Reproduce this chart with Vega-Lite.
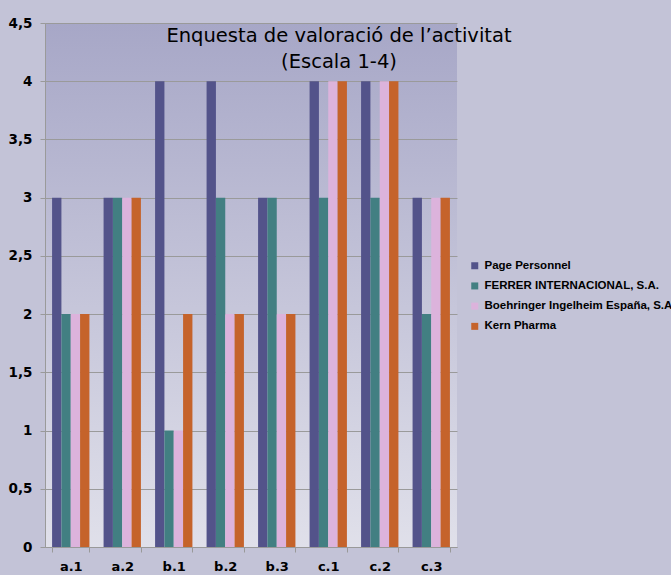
{
  "$schema": "https://vega.github.io/schema/vega-lite/v6.json",
  "autosize": "none",
  "width": 412,
  "height": 524,
  "padding": {"left": 45, "top": 23, "right": 214, "bottom": 28},
  "background": "#c3c3d7",
  "title": {
    "text": ["Enquesta de valoració de l’activitat", "(Escala 1-4)"],
    "orient": "top",
    "frame": "group",
    "anchor": "middle",
    "dx": 88,
    "offset": -71,
    "baseline": "alphabetic",
    "font": "DejaVu Sans",
    "fontSize": 19.5,
    "fontWeight": "normal",
    "lineHeight": 26,
    "color": "#000000"
  },
  "data": {
    "values": [
      {"item": "a.1", "company": "Page Personnel", "value": 3},
      {"item": "a.1", "company": "FERRER INTERNACIONAL, S.A.", "value": 2},
      {"item": "a.1", "company": "Boehringer Ingelheim España, S.A", "value": 2},
      {"item": "a.1", "company": "Kern Pharma", "value": 2},
      {"item": "a.2", "company": "Page Personnel", "value": 3},
      {"item": "a.2", "company": "FERRER INTERNACIONAL, S.A.", "value": 3},
      {"item": "a.2", "company": "Boehringer Ingelheim España, S.A", "value": 3},
      {"item": "a.2", "company": "Kern Pharma", "value": 3},
      {"item": "b.1", "company": "Page Personnel", "value": 4},
      {"item": "b.1", "company": "FERRER INTERNACIONAL, S.A.", "value": 1},
      {"item": "b.1", "company": "Boehringer Ingelheim España, S.A", "value": 1},
      {"item": "b.1", "company": "Kern Pharma", "value": 2},
      {"item": "b.2", "company": "Page Personnel", "value": 4},
      {"item": "b.2", "company": "FERRER INTERNACIONAL, S.A.", "value": 3},
      {"item": "b.2", "company": "Boehringer Ingelheim España, S.A", "value": 2},
      {"item": "b.2", "company": "Kern Pharma", "value": 2},
      {"item": "b.3", "company": "Page Personnel", "value": 3},
      {"item": "b.3", "company": "FERRER INTERNACIONAL, S.A.", "value": 3},
      {"item": "b.3", "company": "Boehringer Ingelheim España, S.A", "value": 2},
      {"item": "b.3", "company": "Kern Pharma", "value": 2},
      {"item": "c.1", "company": "Page Personnel", "value": 4},
      {"item": "c.1", "company": "FERRER INTERNACIONAL, S.A.", "value": 3},
      {"item": "c.1", "company": "Boehringer Ingelheim España, S.A", "value": 4},
      {"item": "c.1", "company": "Kern Pharma", "value": 4},
      {"item": "c.2", "company": "Page Personnel", "value": 4},
      {"item": "c.2", "company": "FERRER INTERNACIONAL, S.A.", "value": 3},
      {"item": "c.2", "company": "Boehringer Ingelheim España, S.A", "value": 4},
      {"item": "c.2", "company": "Kern Pharma", "value": 4},
      {"item": "c.3", "company": "Page Personnel", "value": 3},
      {"item": "c.3", "company": "FERRER INTERNACIONAL, S.A.", "value": 2},
      {"item": "c.3", "company": "Boehringer Ingelheim España, S.A", "value": 3},
      {"item": "c.3", "company": "Kern Pharma", "value": 3}
    ]
  },
  "mark": {"type": "bar", "strokeWidth": 0},
  "encoding": {
    "x": {
      "field": "item",
      "type": "nominal",
      "sort": ["a.1", "a.2", "b.1", "b.2", "b.3", "c.1", "c.2", "c.3"],
      "scale": {"paddingInner": 0.275, "paddingOuter": 0.1375},
      "axis": {
        "title": null,
        "labelAngle": 0,
        "tickBand": "extent",
        "tickSize": 5,
        "tickColor": "#999999",
        "domainColor": "#999999",
        "labelFont": "DejaVu Sans",
        "labelFontWeight": "bold",
        "labelFontSize": 13,
        "labelColor": "#000000",
        "labelPadding": 8,
        "grid": false
      }
    },
    "xOffset": {
      "field": "company",
      "type": "nominal",
      "sort": ["Page Personnel", "FERRER INTERNACIONAL, S.A.", "Boehringer Ingelheim España, S.A", "Kern Pharma"],
      "scale": {"paddingInner": 0, "paddingOuter": 0}
    },
    "y": {
      "field": "value",
      "type": "quantitative",
      "scale": {"domain": [0, 4.5], "nice": false},
      "axis": {
        "title": null,
        "values": [0, 0.5, 1, 1.5, 2, 2.5, 3, 3.5, 4, 4.5],
        "labelExpr": "replace(format(datum.value, '.1~f'), '.', ',')",
        "grid": true,
        "gridColor": "#9a9a9a",
        "gridWidth": 1,
        "tickSize": 5,
        "tickColor": "#9a9a9a",
        "domainColor": "#9a9a9a",
        "labelFont": "DejaVu Sans",
        "labelFontWeight": "bold",
        "labelFontSize": 13.5,
        "labelColor": "#000000",
        "labelPadding": 8
      }
    },
    "color": {
      "field": "company",
      "type": "nominal",
      "scale": {
        "domain": ["Page Personnel", "FERRER INTERNACIONAL, S.A.", "Boehringer Ingelheim España, S.A", "Kern Pharma"],
        "range": ["#53538a", "#427f82", "#dcb3dc", "#c5632b"]
      },
      "legend": {
        "title": null,
        "orient": "none",
        "legendX": 424,
        "legendY": 237,
        "symbolType": "square",
        "symbolSize": 49,
        "symbolStrokeWidth": 0,
        "labelFont": "Liberation Sans",
        "labelFontWeight": "bold",
        "labelFontSize": 11.5,
        "labelColor": "#000000",
        "labelLimit": 300,
        "labelOffset": 4,
        "rowPadding": 7.2,
        "padding": 0
      }
    }
  },
  "config": {
    "view": {
      "stroke": null,
      "fill": {
        "gradient": "linear",
        "x1": 0, "y1": 0, "x2": 0, "y2": 1,
        "stops": [
          {"offset": 0, "color": "#a7a7c7"},
          {"offset": 1, "color": "#e0e0ea"}
        ]
      }
    }
  }
}
